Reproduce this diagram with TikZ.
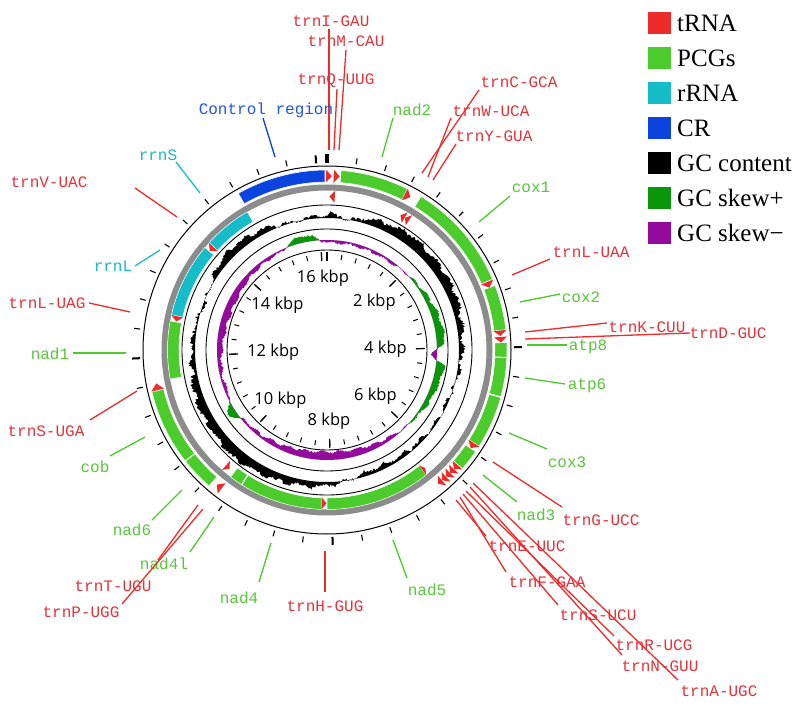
\documentclass[tikz,border=0pt]{standalone}
\usepackage{fontspec}
\setmainfont{Liberation Serif}
\newfontfamily\labfont{Liberation Mono}
\newfontfamily\kbfont{Open Sans}
\definecolor{ctrna}{HTML}{EE2B2B}
\definecolor{cpcg}{HTML}{4CCB2C}
\definecolor{crrna}{HTML}{17BCC9}
\definecolor{ccr}{HTML}{0B43DF}
\definecolor{cskp}{HTML}{0A960A}
\definecolor{cskm}{HTML}{930A9C}
\definecolor{cgray}{HTML}{8C8C8C}
\definecolor{ltrna}{HTML}{E3343C}
\definecolor{lpcg}{HTML}{59C63B}
\definecolor{lrrna}{HTML}{1DB8C6}
\definecolor{lcr}{HTML}{2356DB}
% feature band: start, end (deg clockwise from top), r1, r2, colour
\newcommand{\gband}[5]{\fill[#5,draw=white,line width=0.5pt] ({#1-90}:#3) arc[start angle={#1-90},end angle={#2-90},radius=#3] -- ({#2-90}:#4) arc[start angle={#2-90},end angle={#1-90},radius=#4] -- cycle;}
\newcommand{\tplus}[2]{\fill[ctrna] ({#1-90}:167.5) -- ({#2-90}:174) -- ({#1-90}:180.5) -- cycle;}
\newcommand{\tminus}[2]{\fill[ctrna] ({#2-90}:147.5) -- ({#1-90}:153.5) -- ({#2-90}:159.5) -- cycle;}
% gene label: name, text, text colour, centre, line start, line end, line colour
\newcommand{\glab}[7]{\node[lab,text=#3] (#1) at (#4) {#2};
  \coordinate (#1s) at (#5); \coordinate (#1e) at (#6);
  \draw[lln,#7] (#1s) -- (#1e);}
\begin{document}
\pgfmathsetseed{4242}
\begin{tikzpicture}[x=1pt,y=-1pt,
  declare function={bp(\t,\c,\w)=max(0,1-((\t-\c)/\w)^2)^2;
    gc(\t)=3.5+6*sin(2*\t)+10*bp(\t,318,28)-6*bp(\t,10,9)-4*bp(\t,158,18)+1.4*sin(37*\t)+1.1*sin(41*\t)*cos(29*\t)+3.6*rnd-1.8;
    sk(\t)=-2.5+11*bp(\t,90,60)+9*bp(\t,347,14)+10*bp(\t,237,8)-5.5*bp(\t,180,45)-14*bp(\t,92,6)-4.5*bp(\t,290,40)+1.0*sin(37*\t)+2*rnd-1;},
  lab/.style={font=\labfont\fontsize{16}{16}\selectfont,inner sep=0pt},
  lln/.style={line width=1.3pt},
  kb/.style={font=\kbfont\fontsize{16.5}{16.5}\selectfont,inner sep=1pt},
  leg/.style={font=\fontsize{25}{25}\selectfont,anchor=west,inner sep=0pt}]
\useasboundingbox (0,0) rectangle (800,708);
\fill[white] (0,0) rectangle (800,708);
\begin{scope}[shift={(327,350)}]
  % outer circle and ticks
  \draw[line width=1pt] (0,0) circle[radius=184];
  \foreach \k in {0,...,40}{\pgfmathsetmacro\a{\k*0.4/16.15*360-90}
    \draw[line width=1.1pt] (\a:188) -- (\a:194);}
  \foreach \k in {10,20,30,40}{\pgfmathsetmacro\a{\k*0.4/16.15*360-90}
    \draw[line width=2pt] (\a:187) -- (\a:195);}
  \draw[line width=4pt] (-90:187) -- (-90:196);
  % backbone
  \fill[cgray,even odd rule] (0,0) circle[radius=165.5] (0,0) circle[radius=159.5];
  % plus strand
  \gband{330.5}{359.3}{168}{180}{ccr}
  \gband{4.5}{26.5}{168}{180}{cpcg}
  \gband{31.5}{66.8}{168}{180}{cpcg}
  \gband{69}{83.5}{168}{180}{cpcg}
  \gband{87.6}{92.3}{168}{180}{cpcg}
  \gband{92.5}{105}{168}{180}{cpcg}
  \gband{105.3}{122.3}{168}{180}{cpcg}
  \gband{124.4}{131.2}{168}{180}{cpcg}
  \gband{221}{231.8}{168}{180}{cpcg}
  \gband{232}{256.5}{168}{180}{cpcg}
  \tplus{359.6}{361.6}\tplus{2.2}{4.2}\tplus{26.6}{28.6}\tplus{67}{69}
  \tplus{83.6}{85.4}\tplus{85.7}{87.5}\tplus{122.4}{124.3}
  \tplus{131.4}{133.1}\tplus{133.2}{134.9}\tplus{135}{136.7}\tplus{136.8}{138.5}\tplus{138.6}{140.3}
  \tplus{217.3}{219.3}\tplus{256.7}{258.9}
  % minus strand
  \gband{141.5}{180}{148}{159.5}{cpcg}
  \gband{182}{212.2}{148}{159.5}{cpcg}
  \gband{212.5}{217.2}{148}{159.5}{cpcg}
  \gband{259.5}{280.5}{148}{159.5}{cpcg}
  \gband{282.8}{310}{148}{159.5}{crrna}
  \gband{312.3}{330}{148}{159.5}{crrna}
  \tminus{0.9}{2.9}\tminus{28.6}{30.4}\tminus{30.5}{32.3}\tminus{140.2}{141.5}
  \tminus{180.2}{182}\tminus{219.4}{221.2}\tminus{280.7}{282.7}\tminus{310.2}{312.2}
  % rings
  \draw[line width=0.9pt] (0,0) circle[radius=145];
  \draw[line width=0.9pt] (0,0) circle[radius=121];
  \draw[line width=0.9pt] (0,0) circle[radius=100];
  % GC content
  \fill[black,even odd rule] plot[domain=0:360,samples=721] ({\x-90}:{132+gc(\x)}) -- cycle (0,0) circle[radius=132];
  % GC skew
  \fill[cskp,even odd rule] plot[domain=0:360,samples=721] ({\x-90}:{110+max(sk(\x),0)}) -- cycle (0,0) circle[radius=110];
  \fill[cskm,even odd rule] plot[domain=0:360,samples=721] ({\x-90}:{110+min(sk(\x),0)}) -- cycle (0,0) circle[radius=110];
  % inner ticks
  \foreach \k in {0,...,40}{\pgfmathsetmacro\a{\k*0.4/16.15*360-90}
    \draw[line width=1pt] (\a:91) -- (\a:96);}
  \foreach \k in {0,5,...,40}{\pgfmathsetmacro\a{\k*0.4/16.15*360-90}
    \draw[line width=1.2pt] (\a:89) -- (\a:98);}
  \foreach \n in {2,4,...,16}{\pgfmathsetmacro\t{\n/16.15*360}
    \pgfmathtruncatemacro\an{90-\t}
    \node[kb,anchor=\an] (kb\n) at ({\t-90}:81) {\n\ kbp};}
\end{scope}
% gene labels
\glab{tI}{trnI-GAU}{ltrna}{331,21}{329,150}{329,29}{ctrna}
\glab{tM}{trnM-CAU}{ltrna}{346,41}{339,150}{346,50}{ctrna}
\glab{tQ}{trnQ-UUG}{ltrna}{336,81}{334,150}{337,89}{ctrna}
\glab{CRl}{Control region}{lcr}{266,110}{275,157}{263,118}{ccr}
\glab{nadii}{nad2}{lpcg}{412,110}{382,157}{393,118}{cpcg}
\glab{tC}{trnC-GCA}{ltrna}{519,82}{422,173}{479,90}{ctrna}
\glab{tW}{trnW-UCA}{ltrna}{491,111}{428,177}{451,118}{ctrna}
\glab{tY}{trnY-GUA}{ltrna}{494,136}{433,180}{456,144}{ctrna}
\glab{coxi}{cox1}{lpcg}{531,187}{479,222}{510,196}{cpcg}
\glab{tLi}{trnL-UAA}{ltrna}{591,252}{512,275}{550,259}{ctrna}
\glab{coxii}{cox2}{lpcg}{581,297}{520,302}{560,294}{cpcg}
\glab{tK}{trnK-CUU}{ltrna}{647,327}{525,332}{607,323}{ctrna}
\glab{tD}{trnD-GUC}{ltrna}{728,333}{525,339}{690,333}{ctrna}
\glab{atpviii}{atp8}{lpcg}{588,347}{527,345}{567,345}{cpcg}
\glab{atpvi}{atp6}{lpcg}{587,386}{525,378}{565,384}{cpcg}
\glab{coxiii}{cox3}{lpcg}{567,462}{509,433}{547,449}{cpcg}
\glab{tG}{trnG-UCC}{ltrna}{601,520}{493,462}{562,507}{ctrna}
\glab{nadiii}{nad3}{lpcg}{536,515}{483,475}{517,502}{cpcg}
\glab{tE}{trnE-UUC}{ltrna}{527,546}{456,500}{486,536}{ctrna}
\glab{tF}{trnF-GAA}{ltrna}{547,582}{460,497}{506,572}{ctrna}
\glab{tS}{trnS-UCU}{ltrna}{598,615}{463,494}{558,605}{ctrna}
\glab{tR}{trnR-UCG}{ltrna}{654,645}{466,491}{614,636}{ctrna}
\glab{tN}{trnN-GUU}{ltrna}{660,666}{470,487}{622,655}{ctrna}
\glab{tA}{trnA-UGC}{ltrna}{719,691}{473,483}{678,680}{ctrna}
\glab{nadv}{nad5}{lpcg}{427,590}{393,540}{407,578}{cpcg}
\glab{tH}{trnH-GUG}{ltrna}{325,606}{325,551}{325,592}{ctrna}
\glab{nadiv}{nad4}{lpcg}{239,598}{271,543}{259,582}{cpcg}
\glab{nadivl}{nad4l}{lpcg}{164,564}{214,517}{190,552}{cpcg}
\glab{tT}{trnT-UGU}{ltrna}{113,586}{198,505}{158,560}{ctrna}
\glab{tP}{trnP-UGG}{ltrna}{81,612}{203,509}{122,604}{ctrna}
\glab{nadvi}{nad6}{lpcg}{132,530}{182,490}{152,520}{cpcg}
\glab{cob}{cob}{lpcg}{95,467}{145,437}{110,456}{cpcg}
\glab{tSii}{trnS-UGA}{ltrna}{46,431}{137,391}{90,420}{ctrna}
\glab{nadi}{nad1}{lpcg}{50,354}{126,353}{73,353}{cpcg}
\glab{tLii}{trnL-UAG}{ltrna}{47,303}{130,312}{89,303}{ctrna}
\glab{rrnL}{rrnL}{lrrna}{113,266}{160,250}{135,266}{crrna}
\glab{tV}{trnV-UAC}{ltrna}{49,182}{177,217}{135,188}{ctrna}
\glab{rrnS}{rrnS}{lrrna}{158,155}{200,193}{176,162}{crrna}
% legend
\foreach \c/\t [count=\i from 0] in {ctrna/tRNA,cpcg/PCGs,crrna/rRNA,ccr/CR,black/GC content,cskp/GC skew+,cskm/GC skew−}{
  \fill[\c] (648,{12+35*\i}) rectangle (671,{34+35*\i});
  \node[leg] (leg\i) at (677,{23+35*\i}) {\t};}
\end{tikzpicture}
\end{document}
